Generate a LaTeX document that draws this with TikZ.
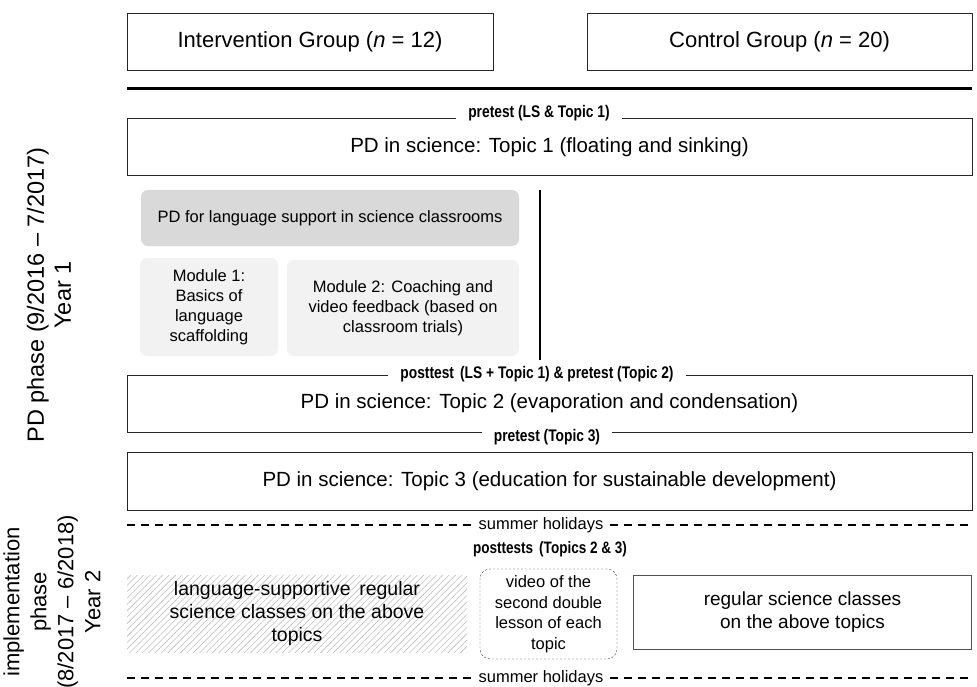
\documentclass[tikz,border=0pt]{standalone}
\usepackage{fontspec}
\setmainfont{Liberation Sans}
\usepackage{graphicx}
\usetikzlibrary{patterns.meta}

\newcommand{\slim}[1]{\scalebox{0.82}[1]{#1}}

\begin{document}
\begin{tikzpicture}[x=1pt, y=-1pt,
    groupbox/.style={draw=black!85, line width=0.9pt, minimum height=57pt, align=center, font=\fontsize{22}{26}\selectfont},
    topicbox/.style={draw=black!85, line width=0.9pt, minimum width=845pt, minimum height=57pt, align=center, font=\fontsize{20.5}{24}\selectfont},
    testlabel/.style={fill=white, inner xsep=12pt, inner ysep=1pt, font=\bfseries\fontsize{16.8}{19}\selectfont},
    modbox/.style={fill=gray!10, rounded corners=7pt, align=center, font=\fontsize{16.5}{20}\selectfont},
    holiday/.style={fill=white, inner xsep=6pt, inner ysep=1pt, font=\fontsize{16.5}{19}\selectfont},
    dashline/.style={line width=1.8pt, dash pattern=on 8pt off 6pt},
    phase/.style={rotate=90, align=center}]
    \useasboundingbox (0,0) rectangle (977,687);

    % Groups
    \node[groupbox, minimum width=366pt] (interv) at (310,41.5) {Intervention Group (\textit{n} = 12)};
    \node[groupbox, minimum width=385pt] (control) at (779.5,41.5) {Control Group (\textit{n} = 20)};
    \draw[line width=3pt] (127,89) -- (972,89);

    % Year 1: PD phase
    \node[topicbox] (topic1) at (549.5,147) {PD in science: Topic 1 (floating and sinking)};
    \node[testlabel] (pre1) at ([xshift=-10.5pt, yshift=4.5pt]topic1.north) {\slim{pretest (LS \& Topic 1)}};

    \node[modbox, fill=gray!30, minimum width=378pt, minimum height=56pt] (langpd) at (330,218) {PD for language support in science classrooms};
    \node[modbox, minimum width=138pt, minimum height=98pt] (mod1) at (209,307) {Module 1:\\Basics of\\language\\scaffolding};
    \node[modbox, minimum width=232pt, minimum height=96pt] (mod2) at (403,308) {Module 2: Coaching and\\video feedback (based on\\classroom trials)};
    \draw[line width=2.8pt] (540,190) -- (540,360);

    \node[topicbox] (topic2) at (549.5,403.5) {PD in science: Topic 2 (evaporation and condensation)};
    \node[testlabel] (post1) at ([xshift=-12.5pt]topic2.north) {\slim{posttest\, (LS + Topic 1) \& pretest (Topic 2)}};
    \node[testlabel] (pre3) at ([xshift=-2.5pt, yshift=-5pt]topic2.south) {\slim{pretest (Topic 3)}};

    \node[topicbox, minimum height=58pt] (topic3) at (549.5,481) {PD in science: Topic 3 (education for sustainable development)};

    % Year 2: implementation phase
    \node[holiday] (hol1) at (541,525) {summer holidays};
    \coordinate (hol1l) at (127,525);
    \coordinate (hol1r) at (972,525);
    \draw[dashline] (hol1l) -- (hol1.west);
    \draw[dashline] (hol1.east) -- (hol1r);

    \node[font=\bfseries\fontsize{16.5}{19}\selectfont] (post2) at (550,549) {\slim{posttests\, (Topics 2 \& 3)}};

    \node[pattern={Lines[angle=45, distance=4.5pt, line width=0.6pt]}, pattern color=gray!50, minimum width=340pt, minimum height=77pt, align=center, font=\fontsize{19.5}{23}\selectfont] (lsclass) at (297,613.5) {language-supportive\, regular\\science classes on the above\\topics};
    \node[draw=black!80, dash pattern=on 2pt off 2pt, rounded corners=10pt, minimum width=137pt, minimum height=90pt, align=center, font=\fontsize{16.5}{20.5}\selectfont] (video) at (548.5,614) {video of the\\second double\\lesson of each\\topic};
    \node[draw=black!60!blue!40!gray, line width=1pt, minimum width=338pt, minimum height=74pt, align=center, font=\fontsize{19}{23}\selectfont] (regular) at (802.5,612) {regular science classes\\on the above topics};

    \node[holiday] (hol2) at (541,678) {summer holidays};
    \coordinate (hol2l) at (127,678);
    \coordinate (hol2r) at (972,678);
    \draw[dashline] (hol2l) -- (hol2.west);
    \draw[dashline] (hol2.east) -- (hol2r);

    % Phase labels
    \node[phase, font=\fontsize{23.5}{27}\selectfont] (phase1) at (49,295) {PD phase (9/2016 -- 7/2017)\\Year 1};
    \node[phase, font=\fontsize{22}{27}\selectfont] (phase2) at (52,602) {implementation\\phase\\(8/2017 -- 6/2018)\\Year 2};
\end{tikzpicture}
\end{document}
